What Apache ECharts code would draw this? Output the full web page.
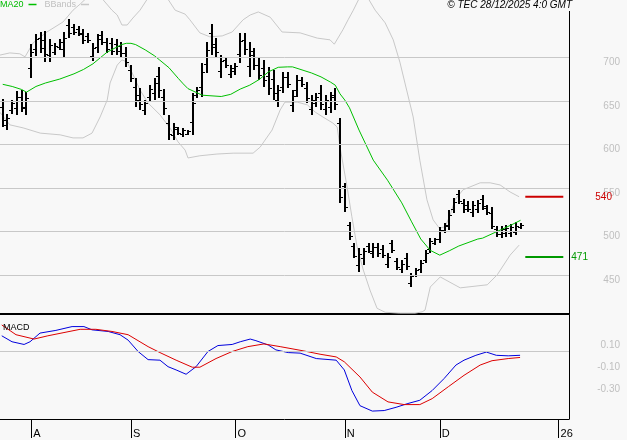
<!DOCTYPE html>
<html><head><meta charset="utf-8">
<script src="https://cdn.jsdelivr.net/npm/echarts@6/dist/echarts.min.js"></script>
<style>html,body{margin:0;padding:0;background:#f8f8f8}#c{width:627px;height:440px}</style>
</head><body><div id="c"></div>
<script>
// ---- data (day index 0 = first bar, 24 Jul 2025) ----
const barOpen = [642.5,622,640,642,655,641.5,688,709,722,719.5, 702.5,706.5,712,709,737.5,734.5,732.5,727,724.5,702, 711.5,725.5,717,716.5,715.5,712.5,705,685.5,666,657, 639,654.5,658.5,678,654.5,625,611,617.5,611.5,612.5, 625.5,657,666,692.5,727.5,715.5,684,696.5,680.5,684, 703.5,720,689.5,703,691.5,687.5,679,675,650.5,666, 677.5,645,662,674,664.5,640.5,648,659.5,640.5,643.5, 657,625,552,508,484,462,470,483,475,482, 480,463,487,466,457,470,441,450,457,468, 480,487,492,502,508,526,543,533,531,522, 526,537,527,521,503,497,498,498,500,505];
const barHigh = [652,635,651,661,662.5,660,715,726.5,729,730, 721,716.5,721,729,744,738,736,732.5,728,716.5, 726.5,730,722,722,721,717.5,712,691,676,665, 651,668,676,689,663.5,634,624.5,620,619,616.5, 659,666,693.5,717.5,738,722,702.5,700,691,693.5, 728,728,717.5,710.5,699,697,689,685.5,668,683, 683,662.5,679.5,677.5,671.5,656.5,659,668,656.5,660, 665,630.5,556,511,487,481,481,487,487,487, 484.5,475.5,490.5,470,467.5,475.5,452.5,458.5,467.5,479, 492.5,492.5,505.5,510,525,538.5,548,537.5,535,535, 536.5,542,530.5,528.5,506.5,506.5,507.5,509,511,510];
const barLow = [620,616.5,635,634,637,634,676,701.5,705,694.5, 694.5,702.5,708.5,700.5,722,725.5,724.5,715,716.5,695.5, 705,714,705,702.5,702.5,700.5,689,671.5,643,639.5, 634,648.5,651,653.5,634,605,605,611,608.5,611, 611,653.5,654.5,682,702.5,700.5,676,687.5,676,679.5, 693.5,702.5,677.5,685.5,674,666,656.5,651,643,659, 665,637,654.5,666,647.5,634,643,639.5,634,636, 639.5,533,522.5,490.5,470,453.5,461.5,475.5,470,471, 470,458.5,475.5,456,452.5,456,436.5,448,452.5,464, 475.5,484.5,487,498.5,502,521.5,531.5,521.5,522.5,517, 521.5,525,519,503,494,492.5,494,494,496,503];
const barClose = [628,630.5,647,654.5,643.5,653.5,705.5,720.5,711,703.5, 714.5,713,718,722,727.5,729,727.5,719.5,719.5,711, 721.5,718,709,707.5,707,704.5,694.5,676.5,651.5,646, 647,663.5,670,662,641.5,612.5,619.5,613,616.5,615, 647,663,683.5,708.5,711.5,706,696,691,687.5,690, 719,709,707.5,691.5,680,674,664.5,659.5,662,677, 669.5,656,673.5,669,653.5,651,655,646.5,651,654, 646,540,528,495,472,474,478,478,482,475, 473,471,479,459,463,460,449,456,464,475, 489,491,502,507,519,534,535,526,526,530, 533,529,522,507,497,503,504,505,507,508];

const ma20Day   = [0,2,4,5,7,9,12,15,17,19,22,25,26,27,28,30,32,33,35,37,38,39,42,46,48,50,52,54,56,58,60,61,63,65,67,69,70,71,72,73,75,78,81,84,86,88,90,92,94,96,100,101,105,107,109];
const ma20Value = [669,666.5,663,660,666.5,670.5,675,681,686,692.5,706,714.5,716,716,714.5,708.5,701.5,697,688,675.5,669.5,664,656.5,655,657.5,663.5,668,674.5,683.5,688.5,689,689,685.5,682,677.5,671.5,668,658,651,642,616.5,582,559,533,512,491.5,478.5,473,478,483.5,491.5,492.5,502.5,507.5,513];

const upperDay   = [-0.6,1.5,3.6,4.7,6.4,9.3,12.7,14.8,16.3,19.4,23,24.1,25.1,26.2,27.4,28.9,31,34.2,36.3,38.4,39.4,41.5,43.6,46.2,48.3,50.6,52.1,53.8,56.3,58.8,62.6,66.2,68.9,69.8,71.6,72.7,73.8,75.9,78.4,80.5,82.2,83.6,86.4,87.8,89.3,90.6,91.9,93.1,94.2,95.2,96.9,100.5,102.6,104.7,106.8,108.7];
const upperValue = [702.5,705,704,700.5,716.5,729,740.5,754,761,777,754,748.5,737,737,745,754,771.5,771.5,754,749.5,743,728,723.5,724.5,729,743,748.5,752,746,729,728,722,720,715,731.5,743,754,777,754,739.5,720,694.5,631.5,582,536.5,513.5,504,505.5,519,536.5,548,556,556,553.5,545.5,540];
const lowerDay   = [-0.6,1.5,4.3,7.9,12.1,14.8,16.9,18.8,20.5,22,22.6,24.1,25.1,26.2,28.9,30.6,33.1,35.2,36.9,38.4,39,41.5,45.1,48.5,52.7,54.2,56.7,58.4,59.4,62,64.1,65.8,67.4,69.5,70.4,71,72.5,73.5,74.6,75.9,77.3,78.8,80.5,83.6,86.8,88.3,88.9,90,92.1,96.3,102,104.1,106.8,108.7];
const lowerValue = [637,622.5,619,613,611,607.5,607.5,613,631.5,651,670.5,691,697,694.5,662.5,647.5,634,619,603,593.5,584.5,587,589,590,590,597,616.5,639.5,648.5,648.5,645.5,637,631.5,624.5,620,597,551,517,482.5,456,433,412,407.5,406.5,406.5,408,410,436.5,448,435.5,439,450.5,473,484.5];

const macdDay   = [-0.2,1.96,4.5,5.75,7.85,11.2,14.6,17.1,18.8,22.2,24.7,26.4,28.5,30.6,33.1,34.8,36.5,38.6,40.7,43.2,45.3,48.3,50,52.1,53.3,55.9,57.5,60.1,62.6,66,70.2,71.9,73.5,75.2,77.8,80.3,82.8,85.3,87.8,90.4,92.9,95.4,97.1,99.6,101.8,103.9,106.4,108.9];
const macdValue = [14.5,9,6.5,9,17,19.5,23,23,20,18.5,15.5,10.5,0,-7.5,-8,-14,-17,-21,-14,0,5.5,6.5,9,11.5,10,6,1.5,-1,-1.5,-6.5,-8,-17,-36,-50,-55,-54.5,-51.5,-48,-45,-36,-25,-12.5,-8,-3.5,-0.5,-3.5,-4,-3.5];
const signalDay   = [-0.2,2.8,6.6,9.5,12.9,16.3,19.6,23,26.4,30.6,33.1,36.5,39.9,41.5,44.9,48.3,51.6,55,58.4,63.4,66.8,70.2,71.9,75.2,77.8,81.1,84.5,87.8,90.4,93.8,97.1,100.5,103,106.4,108.9];
const signalValue = [24.5,15.5,11.5,14.5,17.5,20.5,20.5,18.5,15.5,4.5,-1,-8,-14.5,-14.5,-6.5,0,4.5,7,4.5,0.5,-2.5,-5,-9.5,-23.5,-37.5,-46.5,-49,-49,-43.5,-32.5,-22,-12.5,-8.5,-6.5,-5.5];

const levelValues = [540, 471];
const levelFromDay = 110, levelToDay = 118;

const priceTicks = [450, 500, 550, 600, 650, 700];
const macdTicks = [10, -10, -30];
const macdTickLabels = ['0.10', '-0.10', '-0.30'];
const monthTicks = [6, 27, 49, 72, 92, 117];
const monthLabels = ['A', 'S', 'O', 'N', 'D', '26'];

// ---- chart ----
const FONT = '"Liberation Sans", Arial, sans-serif';
const zip = (a, b) => a.map((v, i) => [v, b[i]]);
const bars = barOpen.map((o, i) => [i, o, barHigh[i], barLow[i], barClose[i]]);

function ohlcItem(params, api) {
  const x = api.value(0);
  const pO = api.coord([x, api.value(1)]);
  const pH = api.coord([x, api.value(2)]);
  const pL = api.coord([x, api.value(3)]);
  const pC = api.coord([x, api.value(4)]);
  const cx = Math.round(pH[0]);
  const st = {stroke: '#000', lineWidth: 2};
  const st2 = {stroke: '#000', lineWidth: 1};
  const yo = Math.round(pO[1]) + 0.5, yc = Math.round(pC[1]) + 0.5;
  return {type: 'group', children: [
    {type: 'line', shape: {x1: cx, y1: Math.round(pH[1]), x2: cx, y2: Math.round(pL[1])}, style: st},
    {type: 'line', shape: {x1: cx - 3, y1: yo, x2: cx - 1, y2: yo}, style: st2},
    {type: 'line', shape: {x1: cx + 1, y1: yc, x2: cx + 3, y2: yc}, style: st2}
  ]};
}

const xMin = -0.57, xMax = 119.2;
const chart = echarts.init(document.getElementById('c'));
const levelColors = ['#cc0000', '#009900'];
const levelDist = [32, 8];

const option = {
  backgroundColor: '#f8f8f8',
  animation: false,
  textStyle: {fontFamily: FONT},
  legend: {
    left: 0, top: 0, padding: 0, itemGap: 8, align: 'right', icon: 'rect',
    itemWidth: 8, itemHeight: 1.5, selectedMode: false,
    textStyle: {fontSize: 9, fontFamily: FONT},
    data: [{name: 'MA20', textStyle: {color: '#00bb00'}}, {name: 'BBands', textStyle: {color: '#c0c0c0'}}]
  },
  grid: [
    {left: 0, top: 0, width: 569, height: 314},
    {left: 0, top: 315, width: 569, height: 104}
  ],
  xAxis: [
    {type: 'value', gridIndex: 0, min: xMin, max: xMax,
     axisLine: {show: true, onZero: false, lineStyle: {color: '#000', width: 2}},
     axisTick: {show: false}, axisLabel: {show: false}, splitLine: {show: false}},
    {type: 'value', gridIndex: 1, min: xMin, max: xMax,
     axisLine: {show: true, onZero: false, lineStyle: {color: '#000', width: 1}},
     axisTick: {show: true, customValues: monthTicks, length: 19, lineStyle: {color: '#000'}},
     axisLabel: {show: true, customValues: monthTicks, formatter: v => monthLabels[monthTicks.indexOf(v)],
       align: 'left', margin: 9, color: '#000', fontSize: 11, padding: [0, 0, 0, 2]},
     splitLine: {show: false}}
  ],
  yAxis: [
    {type: 'value', gridIndex: 0, position: 'right', min: 405.5, max: 765.7,
     axisLine: {show: true, onZero: false, lineStyle: {color: '#000'}}, axisTick: {show: false},
     axisLabel: {customValues: priceTicks, color: '#c0c0c0', fontSize: 10, align: 'right', margin: 51, verticalAlign: 'top'},
     splitLine: {show: false}},
    {type: 'value', gridIndex: 1, position: 'right', min: -62.3, max: 33.7,
     axisLine: {show: true, onZero: false, lineStyle: {color: '#000'}}, axisTick: {show: false},
     axisLabel: {customValues: macdTicks, formatter: v => macdTickLabels[macdTicks.indexOf(v)],
       color: '#c0c0c0', fontSize: 10, align: 'right', margin: 51, verticalAlign: 'top'},
     splitLine: {show: false}}
  ],
  series: [
    {name: 'BBands', type: 'line', xAxisIndex: 0, yAxisIndex: 0, data: zip(upperDay, upperValue),
     symbol: 'none', z: 1, lineStyle: {color: '#c8c8c8', width: 1}, itemStyle: {color: '#c8c8c8'},
     markLine: {silent: true, symbol: ['none', 'none'], label: {show: false},
       lineStyle: {color: '#c8c8c8', type: 'solid', width: 1},
       data: priceTicks.map(v => ({yAxis: v}))}},
    {name: 'BBands', type: 'line', xAxisIndex: 0, yAxisIndex: 0, data: zip(lowerDay, lowerValue),
     symbol: 'none', z: 1, lineStyle: {color: '#c8c8c8', width: 1}, itemStyle: {color: '#c8c8c8'}},
    {name: 'Price', type: 'custom', xAxisIndex: 0, yAxisIndex: 0, renderItem: ohlcItem,
     encode: {x: 0, y: [1, 2, 3, 4]}, data: bars, z: 2, clip: true},
    {name: 'MA20', type: 'line', xAxisIndex: 0, yAxisIndex: 0, data: zip(ma20Day, ma20Value),
     symbol: 'none', z: 3, lineStyle: {color: '#00c000', width: 1}, itemStyle: {color: '#00c000'}},
    ...levelValues.map((lv, k) => ({
      name: 'level' + k, type: 'line', xAxisIndex: 0, yAxisIndex: 0, symbol: 'none', z: 3,
      lineStyle: {color: levelColors[k], width: 2}, itemStyle: {color: levelColors[k]},
      endLabel: {show: true, distance: levelDist[k], color: levelColors[k], fontSize: 10,
        fontFamily: FONT, formatter: p => String(p.value[1])},
      data: [[levelFromDay, lv], [levelToDay, lv]]
    })),
    {name: 'MACD', type: 'line', xAxisIndex: 1, yAxisIndex: 1, data: zip(macdDay, macdValue),
     symbol: 'none', z: 3, lineStyle: {color: '#0000dd', width: 1},
     markLine: {silent: true, symbol: ['none', 'none'], label: {show: false},
       lineStyle: {color: '#c8c8c8', type: 'solid', width: 1}, data: [{yAxis: 0}]}},
    {name: 'Signal', type: 'line', xAxisIndex: 1, yAxisIndex: 1, data: zip(signalDay, signalValue),
     symbol: 'none', z: 3, lineStyle: {color: '#dd0000', width: 1}}
  ],
  graphic: [
    {type: 'text', right: 54, top: 0, z: 100,
     style: {text: '\u00a9 TEC 28/12/2025 4:0 GMT', font: 'italic 10px ' + FONT, fill: '#000',
       backgroundColor: '#f8f8f8', padding: [0, 1, 1, 1]}},
    {type: 'text', left: 3, top: 323, z: 100,
     style: {text: 'MACD', font: '9px ' + FONT, fill: '#000'}}
  ]
};
chart.setOption(option);
</script>
</body></html>
